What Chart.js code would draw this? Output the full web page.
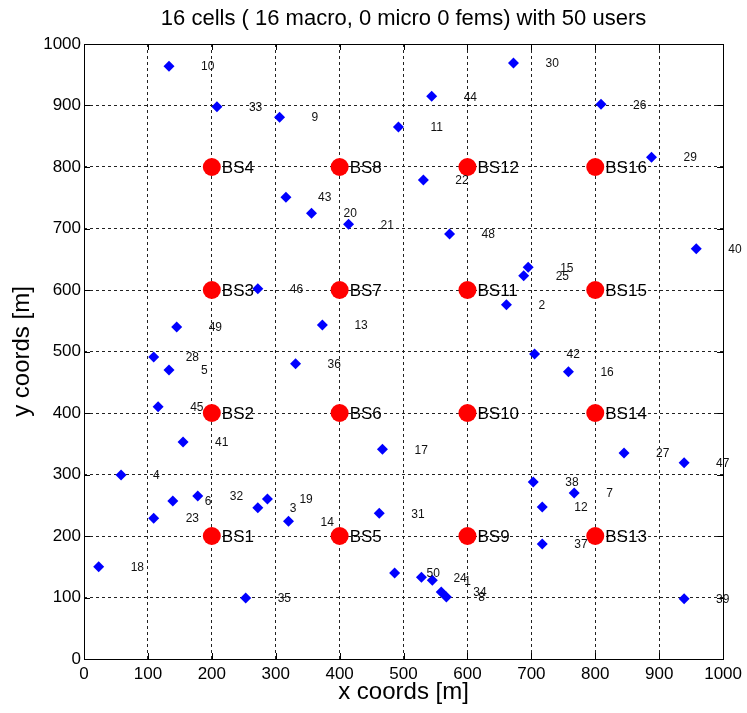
<!DOCTYPE html>
<html>
<head>
    <title>Cell layout</title>
    <script src="https://cdn.jsdelivr.net/npm/chart.js"></script>
    <style>
        body { margin: 0; background: #fff; }
        canvas { display: block; }
    </style>
</head>
<body>
    <canvas id="cellChart" width="747" height="713"></canvas>

    <script>
        // base stations
        const bsNames = ['BS1', 'BS2', 'BS3', 'BS4', 'BS5', 'BS6', 'BS7', 'BS8',
                         'BS9', 'BS10', 'BS11', 'BS12', 'BS13', 'BS14', 'BS15', 'BS16'];
        const bsX = [200, 200, 200, 200, 400, 400, 400, 400, 600, 600, 600, 600, 800, 800, 800, 800];
        const bsY = [200, 400, 600, 800, 200, 400, 600, 800, 200, 400, 600, 800, 200, 400, 600, 800];

        // users 1..50
        const userIds = Array.from({length: 50}, (_, i) => String(i + 1));
        const userX = [545, 661, 272, 58, 133, 139, 767, 567, 306, 133,
                       492, 717, 373, 320, 695, 758, 467, 23, 287, 356,
                       414, 531, 109, 528, 688, 809, 845, 109, 888, 672,
                       462, 178, 208, 559, 253, 331, 717, 703, 939, 958,
                       155, 705, 316, 544, 116, 272, 939, 572, 145, 486];
        const userY = [128, 576, 246, 299, 470, 257, 270, 101, 881, 964,
                       865, 247, 543, 224, 637, 467, 341, 150, 260, 725,
                       707, 779, 229, 133, 623, 902, 335, 491, 816, 969,
                       237, 265, 898, 109, 99, 480, 187, 288, 98, 667,
                       353, 496, 751, 915, 410, 602, 319, 691, 540, 140];

        const axisTicks = [0, 100, 200, 300, 400, 500, 600, 700, 800, 900, 1000];

        const FONT = "'Liberation Sans', Arial, sans-serif";

        // box, inner tick marks and point labels
        const matlabLook = {
            id: 'matlabLook',
            beforeDatasetsDraw(chart) {
                const {ctx, chartArea: a, scales} = chart;
                ctx.save();
                ctx.strokeStyle = '#000';
                ctx.lineWidth = 1;
                ctx.setLineDash([]);
                ctx.beginPath();
                axisTicks.forEach(v => {
                    const px = Math.round(scales.x.getPixelForValue(v)) + 0.5;
                    const py = Math.round(scales.y.getPixelForValue(v)) + 0.5;
                    ctx.moveTo(px, a.bottom); ctx.lineTo(px, a.bottom - 6);
                    ctx.moveTo(px, a.top); ctx.lineTo(px, a.top + 6);
                    ctx.moveTo(a.left, py); ctx.lineTo(a.left + 6, py);
                    ctx.moveTo(a.right, py); ctx.lineTo(a.right - 6, py);
                });
                ctx.stroke();
                ctx.strokeRect(Math.round(a.left) + 0.5, Math.round(a.top) + 0.5,
                               Math.round(a.right - a.left), Math.round(a.bottom - a.top));
                ctx.restore();
            },
            afterDatasetsDraw(chart) {
                const ctx = chart.ctx;
                ctx.save();
                ctx.textAlign = 'left';
                ctx.textBaseline = 'middle';
                ctx.fillStyle = '#000';

                ctx.font = '17px ' + FONT;
                chart.getDatasetMeta(0).data.forEach((pt, i) => {
                    ctx.fillText(bsNames[i], pt.x + 10, pt.y + 1);
                });

                ctx.font = '12px ' + FONT;
                ctx.fillStyle = '#111';
                chart.getDatasetMeta(1).data.forEach((pt, i) => {
                    ctx.fillText(userIds[i], pt.x + 32, pt.y + 1);
                });
                ctx.restore();
            }
        };

        const ctx = document.getElementById('cellChart').getContext('2d');
        new Chart(ctx, {
            type: 'scatter',
            data: {
                datasets: [{
                    label: 'BS',
                    data: bsX.map((x, i) => ({x: x, y: bsY[i]})),
                    pointStyle: 'circle',
                    pointRadius: 9,
                    backgroundColor: '#ff0000',
                    borderWidth: 0
                }, {
                    label: 'users',
                    data: userX.map((x, i) => ({x: x, y: userY[i]})),
                    pointStyle: 'rectRot',
                    pointRadius: 5.5,
                    backgroundColor: '#0000ff',
                    borderWidth: 0
                }]
            },
            options: {
                responsive: false,
                animation: false,
                events: [],
                layout: { padding: { left: 0, right: 23, top: 0, bottom: 0 } },
                plugins: {
                    legend: { display: false },
                    tooltip: { enabled: false },
                    title: {
                        display: true,
                        fullSize: false,
                        text: '16 cells ( 16 macro, 0 micro 0 fems) with 50 users',
                        color: '#000',
                        font: { family: FONT, size: 22, weight: 'normal' },
                        padding: { top: 6, bottom: 11.6 }
                    }
                },
                scales: {
                    x: {
                        type: 'linear',
                        min: 0,
                        max: 1000,
                        afterBuildTicks: s => { s.ticks = axisTicks.map(v => ({value: v})); },
                        afterFit: s => { s.height = 54; },
                        ticks: { color: '#000', font: { family: FONT, size: 17 }, padding: 5, maxRotation: 0,
                                 callback: v => String(v) },
                        grid: { color: '#222', lineWidth: 1, drawTicks: false },
                        border: { display: false, dash: [3, 3] },
                        title: {
                            display: true,
                            text: 'x coords [m]',
                            color: '#000',
                            font: { family: FONT, size: 24 },
                            padding: { top: 0, bottom: 6 }
                        }
                    },
                    y: {
                        type: 'linear',
                        min: 0,
                        max: 1000,
                        afterBuildTicks: s => { s.ticks = axisTicks.map(v => ({value: v})); },
                        afterFit: s => { s.width = 84; },
                        ticks: { color: '#000', font: { family: FONT, size: 17 }, padding: 3,
                                 callback: v => String(v) },
                        grid: { color: '#222', lineWidth: 1, drawTicks: false },
                        border: { display: false, dash: [3, 3] },
                        title: {
                            display: true,
                            text: 'y coords [m]',
                            color: '#000',
                            font: { family: FONT, size: 24 },
                            padding: { top: 8, bottom: 0 }
                        }
                    }
                }
            },
            plugins: [matlabLook]
        });
    </script>
</body>
</html>
